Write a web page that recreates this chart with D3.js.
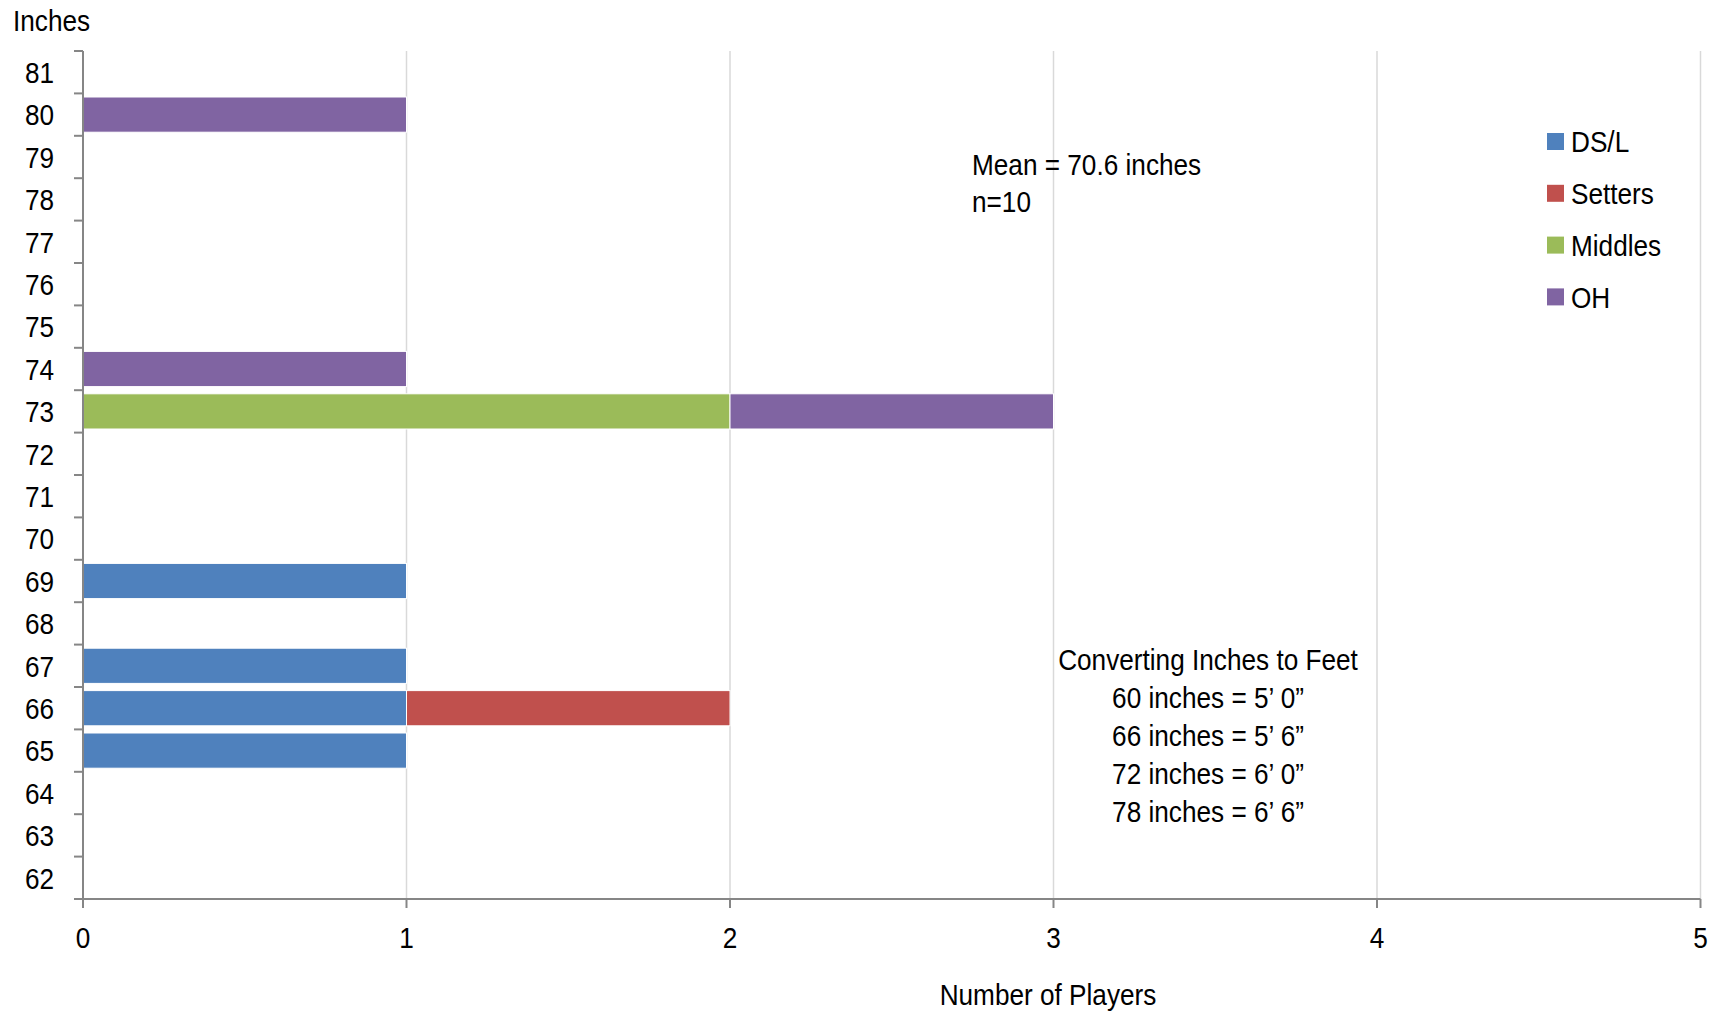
<!DOCTYPE html>
<html>
<head>
<meta charset="utf-8">
<script src="https://cdn.jsdelivr.net/npm/d3@7"></script>
<style>
  html, body { margin: 0; padding: 0; background: #fff; }
  svg text { font-family: "Liberation Sans", Arial, sans-serif; fill: #000; }
</style>
</head>
<body>
<svg id="chart" width="1723" height="1014"></svg>
<script>
// ---- data ----
const heights = [81, 80, 79, 78, 77, 76, 75, 74, 73, 72, 71, 70, 69, 68, 67, 66, 65, 64, 63, 62];
const seriesNames = ["DS/L", "Setters", "Middles", "OH"];
const seriesColors = ["#4F81BD", "#C0504D", "#9BBB59", "#8064A2"];
// counts per height for each series (order matches heights)
const dsl     = [0, 0, 0, 0, 0, 0, 0, 0, 0, 0, 0, 0, 1, 0, 1, 1, 1, 0, 0, 0];
const setters = [0, 0, 0, 0, 0, 0, 0, 0, 0, 0, 0, 0, 0, 0, 0, 1, 0, 0, 0, 0];
const middles = [0, 0, 0, 0, 0, 0, 0, 0, 2, 0, 0, 0, 0, 0, 0, 0, 0, 0, 0, 0];
const oh      = [0, 1, 0, 0, 0, 0, 0, 1, 1, 0, 0, 0, 0, 0, 0, 0, 0, 0, 0, 0];
const xTicks = [0, 1, 2, 3, 4, 5];
const meanLines = ["Mean = 70.6 inches", "n=10"];
const convLines = ["Converting Inches to Feet", "60 inches = 5\u2019 0\u201D", "66 inches = 5\u2019 6\u201D", "72 inches = 6\u2019 0\u201D", "78 inches = 6\u2019 6\u201D"];

// ---- layout ----
const svg = d3.select("#chart");
const pLeft = 83, pRight = 1700.5, pTop = 51, pBottom = 899;
const fontSize = 30;
const sx = 0.873; // horizontal condensing to mimic the narrow typeface

function label(sel, tx, ty) {
  // sel: selection of text; tx, ty accessors
  sel.attr("x", 0).attr("y", 0)
    .attr("transform", (d, i) => `translate(${tx(d, i)},${ty(d, i)}) scale(${sx},1)`)
    .style("font-size", fontSize + "px");
  return sel;
}

const table = heights.map((h, i) => ({ h, vals: [dsl[i], setters[i], middles[i], oh[i]] }));
const stack = d3.stack().keys([0, 1, 2, 3]).value((d, k) => d.vals[k]);
const stacked = stack(table);

const x = d3.scaleLinear().domain([0, 5]).range([pLeft, pRight]);
const y = d3.scaleBand().domain(heights).range([pTop, pBottom]).paddingInner(0.17).paddingOuter(0.085);

// gridlines
svg.append("g").selectAll("line").data(xTicks.filter(t => t > 0)).join("line")
  .attr("x1", d => x(d)).attr("x2", d => x(d))
  .attr("y1", pTop).attr("y2", pBottom)
  .attr("stroke", "#D9D9D9").attr("stroke-width", 1.5);

// bars
stacked.forEach((layer, k) => {
  svg.append("g").attr("fill", seriesColors[k])
    .selectAll("rect").data(layer.filter(d => d[1] - d[0] > 0)).join("rect")
    .attr("x", d => x(d[0]))
    .attr("width", d => x(d[1]) - x(d[0]))
    .attr("y", d => y(d.data.h))
    .attr("height", y.bandwidth())
    .attr("stroke", "#fff").attr("stroke-width", 1);
});

// y axis
const axisColor = "#868686";
const step = y.step();
const off = (step - y.bandwidth()) / 2;
const yGrid = heights.map(h => y(h) - off).concat([pBottom]);
const yAxis = svg.append("g");
yAxis.append("line").attr("x1", pLeft).attr("x2", pLeft).attr("y1", pTop).attr("y2", pBottom)
  .attr("stroke", axisColor).attr("stroke-width", 2);
yAxis.selectAll("line.tick").data(yGrid).join("line").attr("class", "tick")
  .attr("x1", pLeft - 9).attr("x2", pLeft).attr("y1", d => d).attr("y2", d => d)
  .attr("stroke", axisColor).attr("stroke-width", 2);
label(yAxis.selectAll("text").data(heights).join("text"), () => 54, d => y(d) + y.bandwidth() / 2)
  .attr("dy", "0.36em").attr("text-anchor", "end").text(d => d);

// x axis
const xAxis = svg.append("g");
xAxis.append("line").attr("x1", pLeft - 9).attr("x2", pRight).attr("y1", pBottom).attr("y2", pBottom)
  .attr("stroke", axisColor).attr("stroke-width", 2);
xAxis.selectAll("line.tick").data(xTicks).join("line").attr("class", "tick")
  .attr("x1", d => x(d)).attr("x2", d => x(d)).attr("y1", pBottom).attr("y2", pBottom + 9)
  .attr("stroke", axisColor).attr("stroke-width", 2);
label(xAxis.selectAll("text").data(xTicks).join("text"), d => x(d), () => 948)
  .attr("text-anchor", "middle").text(d => d);

// axis titles
label(svg.append("text").datum("Inches"), () => 13, () => 31).text(d => d);
label(svg.append("text").datum("Number of Players"), () => 1048, () => 1005)
  .attr("text-anchor", "middle").text(d => d);

// legend
const legend = svg.append("g");
seriesNames.forEach((name, i) => {
  const yy = 133 + i * 51.8;
  legend.append("rect").attr("x", 1547).attr("y", yy).attr("width", 17).attr("height", 17)
    .attr("fill", seriesColors[i]);
  label(legend.append("text").datum(name), () => 1571, () => yy + 8.5)
    .attr("dy", "0.36em").text(d => d);
});

// annotations
label(svg.append("g").selectAll("text").data(meanLines).join("text"), () => 972, (d, i) => 175 + i * 37)
  .text(d => d);
label(svg.append("g").selectAll("text").data(convLines).join("text"), () => 1208, (d, i) => 670 + i * 37.9)
  .attr("text-anchor", "middle").text(d => d);
</script>
</body>
</html>
